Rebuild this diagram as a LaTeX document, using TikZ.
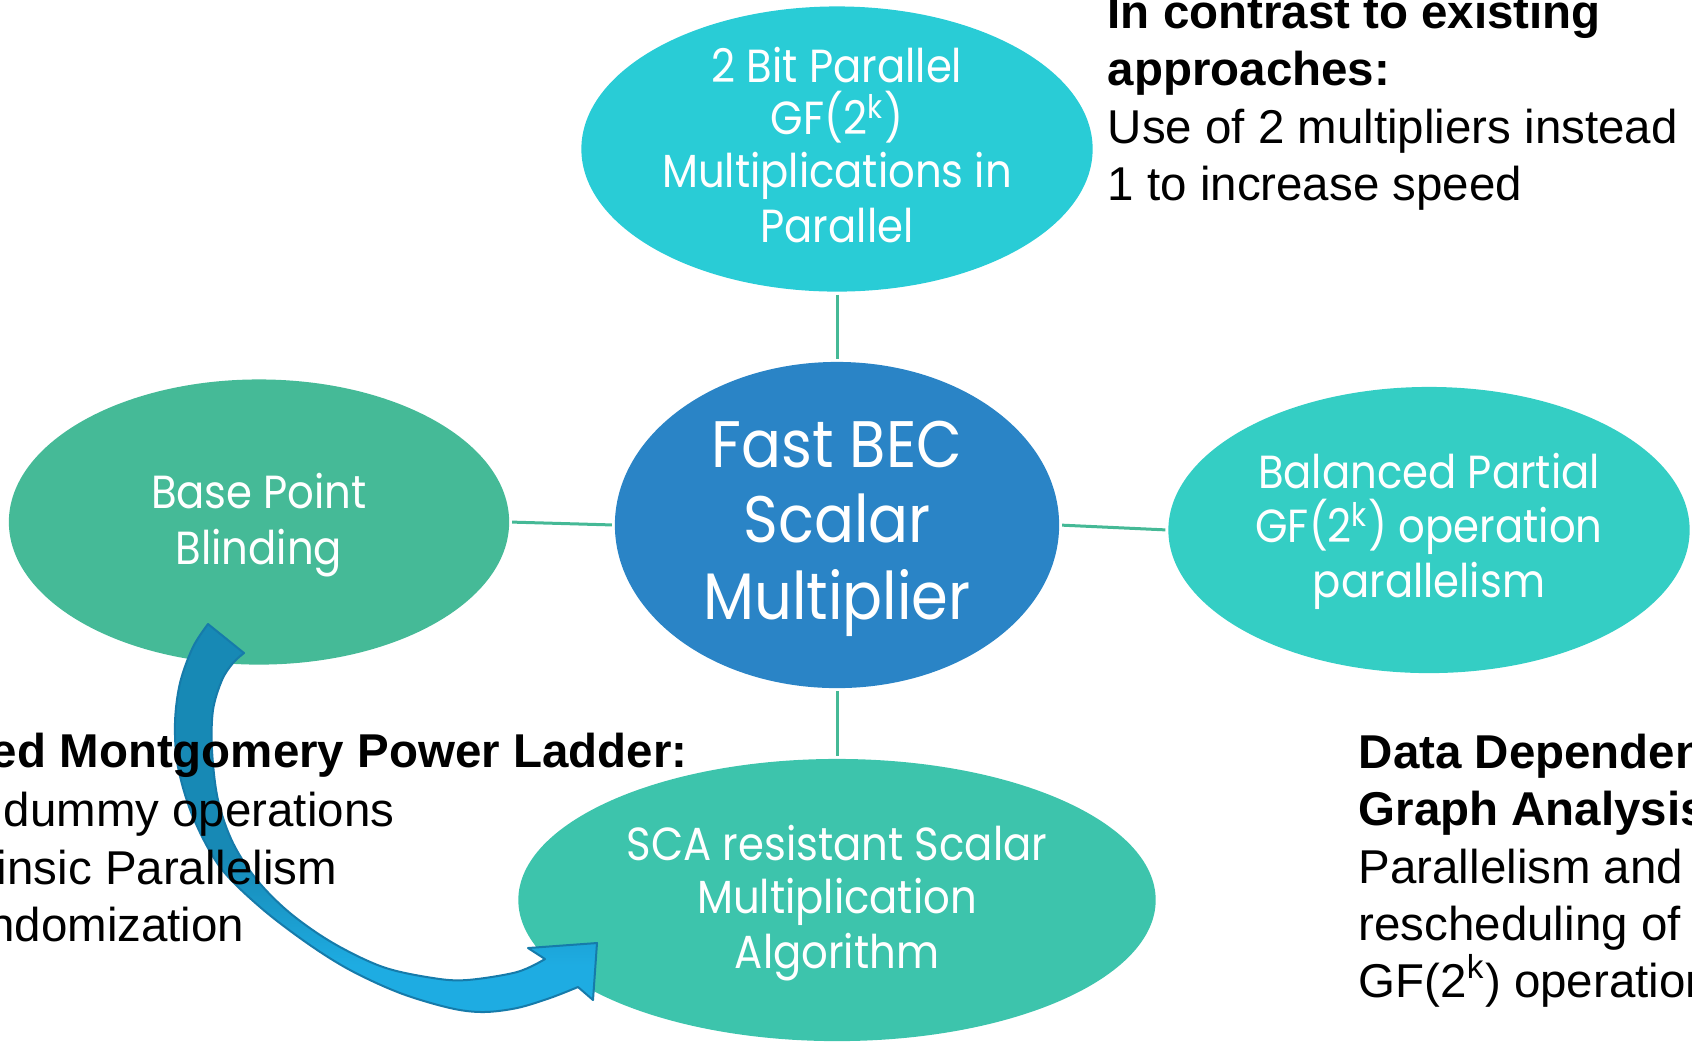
\documentclass[tikz,border=0pt]{standalone}
\usepackage{fontspec}
\setmainfont{Liberation Sans}
\newfontfamily\ovalfont{Poppins}[FakeStretch=0.9]
\usetikzlibrary{shapes.geometric}

\definecolor{topfill}{HTML}{29CCD6}
\definecolor{corefill}{HTML}{2A84C6}
\definecolor{leftfill}{HTML}{45BA97}
\definecolor{rightfill}{HTML}{34CEC4}
\definecolor{bottomfill}{HTML}{3DC4AC}
\definecolor{linkgreen}{HTML}{45B996}
\definecolor{arrowdark}{HTML}{1789B5}
\definecolor{arrowlight}{HTML}{1EACE2}
\definecolor{arrowline}{HTML}{167BAA}

% dark blue along the upper part of the curved arrow, light blue near its head
\pgfdeclareverticalshading{arrowshade}{100bp}{color(0bp)=(arrowlight); color(31bp)=(arrowlight); color(45bp)=(arrowdark); color(100bp)=(arrowdark)}

\tikzset{
  oval/.style={ellipse, inner sep=0pt, outer sep=0pt},
  ovaltext/.style={text=white, inner sep=0pt, anchor=base,
    font=\ovalfont\fontsize{13.2pt}{15pt}\selectfont},
  coretext/.style={ovaltext, font=\ovalfont\fontsize{18.7pt}{21pt}\selectfont},
  note/.style={text=black, inner sep=0pt, font=\fontsize{13.5pt}{16pt}\selectfont},
  notehead/.style={note, font=\bfseries\fontsize{13.5pt}{16pt}\selectfont},
  link/.style={draw=linkgreen, line width=0.03cm, shorten <=0.03cm, shorten >=0.03cm}
}

\begin{document}
\begin{tikzpicture}[x=0.01cm, y=-0.01cm]
\useasboundingbox (0,0) rectangle (1692,1041);

% the five ovals
\node[oval, fill=topfill,    minimum width=5.11cm, minimum height=2.85cm] (mult)    at (837,149) {};
\node[oval, fill=corefill,   minimum width=4.44cm, minimum height=3.26cm] (core)    at (837,525) {};
\node[oval, fill=leftfill,   minimum width=5.00cm, minimum height=2.85cm] (blind)   at (259,522) {};
\node[oval, fill=rightfill,  minimum width=5.21cm, minimum height=2.86cm] (balance) at (1429,530) {};
\node[oval, fill=bottomfill, minimum width=6.37cm, minimum height=2.82cm] (sca)     at (837,900) {};

% connectors to the central oval
\draw[link] (mult.south) -- (core.north);
\draw[link] (blind.east) -- (core.west);
\draw[link] (core.east) -- (balance.west);
\draw[link] (core.south) -- (sca.north);

% oval labels
\node[ovaltext] (mult1) at (837,82)  {2 Bit Parallel};
\node[ovaltext] (mult2) at (837,134) {GF(2\textsuperscript{k})};
\node[ovaltext] (mult3) at (837,187) {Multiplications in};
\node[ovaltext] (mult4) at (837,242) {Parallel};

\node[coretext] (core1) at (837,467) {Fast BEC};
\node[coretext] (core2) at (837,542) {Scalar};
\node[coretext] (core3) at (837,619) {Multiplier};

\node[ovaltext] (blind1) at (259,508) {Base Point};
\node[ovaltext] (blind2) at (259,564) {Blinding};

\node[ovaltext] (bal1) at (1429,488) {Balanced Partial};
\node[ovaltext] (bal2) at (1429,542) {GF(2\textsuperscript{k}) operation};
\node[ovaltext] (bal3) at (1429,597) {parallelism};

\node[ovaltext] (sca1) at (837,860) {SCA resistant Scalar};
\node[ovaltext] (sca2) at (837,913) {Multiplication};
\node[ovaltext] (sca3) at (837,968) {Algorithm};

% curved block arrow from the blinding oval to the algorithm oval
\shadedraw[shading=arrowshade, draw=arrowline, line width=0.02cm, line join=round]
  plot[smooth, tension=0.55] coordinates {(208,624) (193,647) (180,683) (175,723) (178,767)
    (193,817) (220,867) (260,907) (307,943) (350,970) (400,993) (450,1008) (483,1012)
    (517,1008) (550,998) (578,987)}
  -- (593,1000) -- (597,943) -- (528,948)
  -- plot[smooth, tension=0.55] coordinates {(545,959) (517,972) (467,980) (433,978)
    (383,967) (333,943) (290,913) (257,880) (233,843) (218,800) (212,750) (213,710)
    (222,680) (233,663) (244,653)}
  -- cycle;

% side notes
\node[notehead, anchor=base west] (contrast1) at (1107,28)  {In contrast to existing};
\node[notehead, anchor=base west] (contrast2) at (1107,85)  {approaches:};
\node[note,     anchor=base west] (contrast3) at (1107,143) {Use of 2 multipliers instead};
\node[note,     anchor=base west] (contrast4) at (1107,200) {1 to increase speed};

\node[notehead, anchor=base east] (ladder1) at (688,767) {ed Montgomery Power Ladder:};
\node[note,     anchor=base east] (ladder2) at (395,826) {dummy operations};
\node[note,     anchor=base east] (ladder3) at (338,884) {insic Parallelism};
\node[note,     anchor=base east] (ladder4) at (245,941) {ndomization};

\node[notehead, anchor=base west] (graph1) at (1358,768) {Data Dependen};
\node[notehead, anchor=base west] (graph2) at (1358,825) {Graph Analysis};
\node[note,     anchor=base west] (graph3) at (1358,883) {Parallelism and};
\node[note,     anchor=base west] (graph4) at (1358,940) {rescheduling of};
\node[note,     anchor=base west] (graph5) at (1358,997) {GF(2\textsuperscript{k}) operation};
\end{tikzpicture}
\end{document}
